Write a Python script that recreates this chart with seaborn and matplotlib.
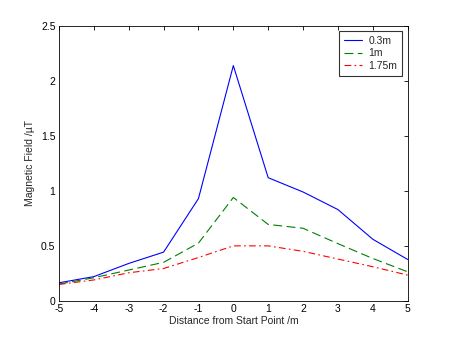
import matplotlib
matplotlib.use("Agg")
import matplotlib.pyplot as plt
import seaborn as sns
import pandas as pd

distance = [-5, -4, -3, -2, -1, 0, 1, 2, 3, 4, 5]
field_03m = [0.164, 0.22, 0.34, 0.443, 0.93, 2.14, 1.12, 0.99, 0.83, 0.56, 0.376]
field_1m = [0.152, 0.21, 0.28, 0.35, 0.525, 0.94, 0.695, 0.66, 0.52, 0.385, 0.264]
field_175m = [0.149, 0.19, 0.255, 0.294, 0.394, 0.5, 0.5, 0.45, 0.38, 0.31, 0.234]
series_labels = ["0.3m", "1m", "1.75m"]

sns.set_style("white")
plt.rcParams['font.family'] = ['Liberation Sans', 'DejaVu Sans']
plt.rcParams['font.size'] = 7.5
plt.rcParams['axes.unicode_minus'] = False

fig = plt.figure(figsize=(4.5, 3.38), dpi=100)
ax = fig.add_axes([0.131, 0.110, 0.775, 0.813])

styles = [("#0000ff", "-"), ("#008000", (0, (8, 4))), ("#ff0000", (0, (6, 3, 1.5, 3)))]
for vals, lab, (c, ls) in zip([field_03m, field_1m, field_175m], series_labels, styles):
    df = pd.DataFrame({"x": distance, "y": vals})
    sns.lineplot(data=df, x="x", y="y", ax=ax, color=c, linestyle=ls,
                 linewidth=0.8, label=lab)

ax.set_xlim(-5, 5)
ax.set_ylim(0, 2.5)
ax.set_xticks(distance)
ax.set_yticks([0, 0.5, 1, 1.5, 2, 2.5])
ax.set_yticklabels(["0", "0.5", "1", "1.5", "2", "2.5"])
ax.tick_params(direction="in", length=3, width=0.6, top=True, right=True,
               labelsize=7.5, pad=2.5, colors="black")
for s in ax.spines.values():
    s.set_visible(True)
    s.set_linewidth(0.6)
    s.set_color("black")
ax.set_xlabel("Distance from Start Point /m", fontsize=7.5, labelpad=1)
ax.set_ylabel("Magnetic Field /\u00b5T", fontsize=7.5, labelpad=4)

leg = ax.legend(loc="upper right", bbox_to_anchor=(0.984, 0.982), borderaxespad=0,
                frameon=True, fancybox=False, edgecolor="black", fontsize=7.5,
                handlelength=1.8, borderpad=0.45, labelspacing=0.25,
                handletextpad=0.6)
leg.get_frame().set_linewidth(0.8)

fig.savefig("out.png", dpi=100)
